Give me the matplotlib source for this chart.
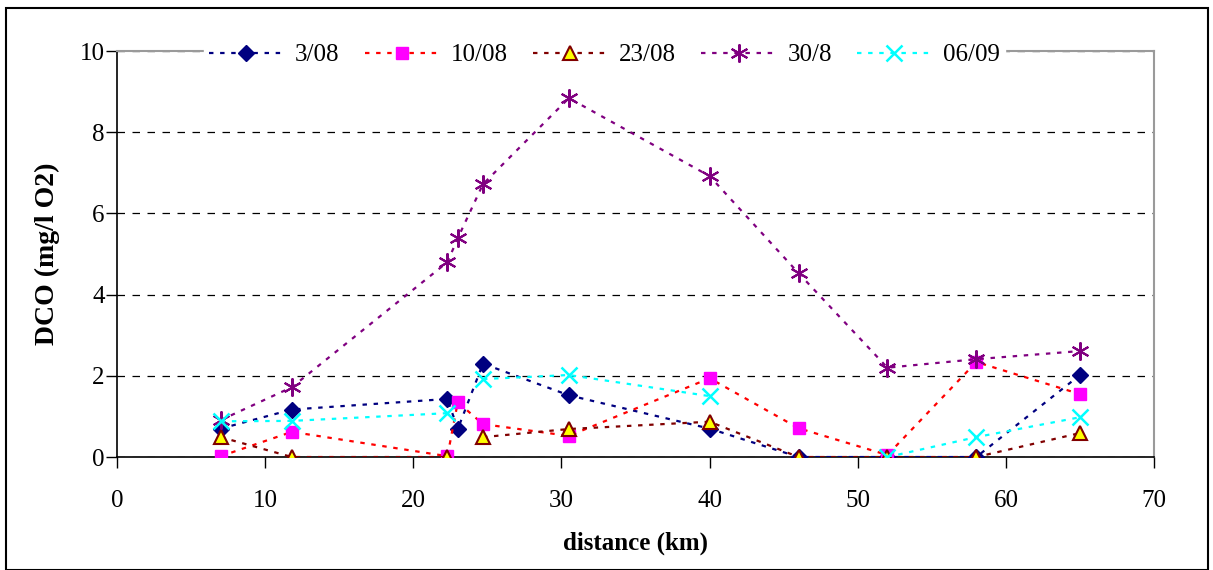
import numpy as np
import matplotlib.pyplot as plt
from matplotlib.patches import Rectangle

plt.rcParams['font.family'] = ['Liberation Serif', 'DejaVu Serif']

nan = np.nan
distance = [7, 11.8, 22.3, 23, 24.7, 30.5, 40, 46, 52, 58, 65]

dco_0308 = [0.7, 1.17, 1.43, 0.69, 2.3, 1.52, 0.7, 0.0, 0.0, 0.0, 2.02]
dco_1008 = [0.02, 0.62, 0.02, 1.35, 0.81, 0.52, 1.94, 0.71, 0.05, 2.34, 1.55]
dco_2308 = [0.49, 0.0, 0.0, nan, 0.49, 0.69, 0.87, 0.0, 0.0, 0.0, 0.59]
dco_3008 = [0.91, 1.72, 4.8, 5.39, 6.72, 8.84, 6.92, 4.53, 2.2, 2.41, 2.61]
dco_0609 = [0.88, 0.89, 1.08, nan, 1.92, 2.02, 1.5, nan, 0.0, 0.49, 0.98]

labels = ['3/08', '10/08', '23/08', '30/8', '06/09']

fig = plt.figure(figsize=(12.13, 5.70), dpi=100)
ax = fig.add_axes([0.0965, 0.1982, 0.8549, 0.7123])

ls = (0, (2, 3))
ax.plot(distance, dco_0308, color='#000080', ls=ls, lw=1.6, marker='D', ms=8,
        mfc='#000080', mec='#000080', label=labels[0], zorder=3)
ax.plot(distance, dco_1008, color='#FF0000', ls=ls, lw=1.6, marker='s', ms=9,
        mfc='#FF00FF', mec='#FF00FF', label=labels[1], zorder=3)
ax.plot(distance, dco_2308, color='#800000', ls=ls, lw=1.6, marker='^', ms=10,
        mfc='#FFFF00', mec='#800000', mew=1.5, label=labels[2], zorder=3)
ax.plot(distance, dco_3008, color='#800080', ls=ls, lw=1.6, marker=(6, 2, 0), ms=13,
        mfc='#800080', mec='#800080', mew=1.5, label=labels[3], zorder=3)
ax.plot(distance, dco_0609, color='#00FFFF', ls=ls, lw=1.6, marker='x', ms=11,
        mec='#00FFFF', mew=1.8, label=labels[4], zorder=3)

ax.set_xlim(0, 70)
ax.set_ylim(0, 10)
ax.set_xticks(range(0, 71, 10))
ax.set_yticks(range(0, 11, 2))
ax.tick_params(labelsize=18, length=8, direction='out', width=1)
ax.tick_params(axis='x', pad=16)
ax.tick_params(axis='y', pad=1)
ax.yaxis.grid(True, color='black', ls=(0, (6, 6)), lw=0.9)

for side in ['top', 'right']:
    ax.spines[side].set_color('#9a9a9a')
    ax.spines[side].set_linewidth(1.5)
for side in ['left', 'bottom']:
    ax.spines[side].set_color('black')
    ax.spines[side].set_linewidth(1.2)

ax.set_xlabel('distance (km)', fontsize=18, fontweight='bold', labelpad=14)
ax.set_ylabel('DCO (mg/l O2)', fontsize=20, fontweight='bold', labelpad=14)

leg = ax.legend(loc='center', bbox_to_anchor=(0.47, 0.99), ncol=5, fontsize=18,
                frameon=True, fancybox=False, edgecolor='white', facecolor='white',
                framealpha=1, handlelength=3.0, handletextpad=0.45,
                columnspacing=1.0, borderpad=0.2)
leg.set_zorder(5)

fig.patches.append(Rectangle((0.005, 0.0), 0.991, 0.986, transform=fig.transFigure,
                             fill=False, edgecolor='black', lw=1.5))

fig.savefig('out.png', dpi=100)
